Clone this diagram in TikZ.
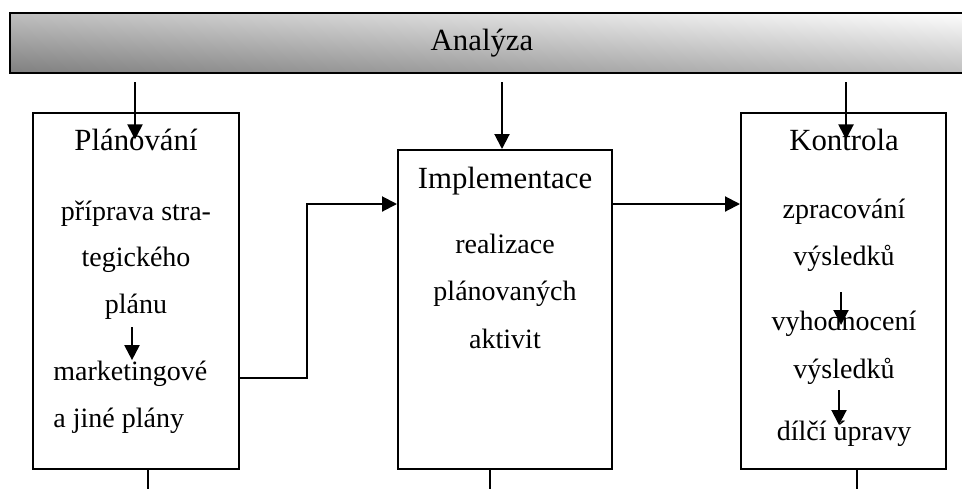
\documentclass[tikz,border=0pt]{standalone}
\usepackage{fontspec}
\setmainfont{Liberation Serif}
\usetikzlibrary{arrows.meta}
% grey that gets lighter towards the upper right corner
\pgfdeclarefunctionalshading{barshade}{\pgfpointorigin}{\pgfpoint{100bp}{100bp}}{}{%
  25 sub 200 div exch 25 sub 200 div add 0.5 add dup dup}

\begin{document}
\begin{tikzpicture}[x=0.5pt,y=-0.5pt,
  every node/.style={font=\fontsize{14}{17}\selectfont},
  title/.style={font=\fontsize{15.4}{18}\selectfont},
  bar/.style={draw,line width=1pt,shade,shading=barshade},
  box/.style={draw,line width=1pt,inner sep=0pt},
  txt/.style={inner sep=0pt,anchor=base},
  arr/.style={line width=1pt,-{Triangle[length=7.5pt,width=7.5pt]}},
  plain/.style={line width=1pt}]
 \useasboundingbox (0,0) rectangle (962,488);
 % top bar
 \node[bar,minimum width=490pt,minimum height=30pt] (analyza) at (500,43) {};
 \node[title] (analyzatext) at (482,43) {Analýza};
 % boxes
 \node[box,minimum width=103pt,minimum height=178pt] (plan) at (136,291) {};
 \node[box,minimum width=107pt,minimum height=159.5pt] (impl) at (505,309.5) {};
 \node[box,minimum width=102.5pt,minimum height=178pt] (kont) at (843.5,291) {};
 % texts of the first box
 \node[txt,title] (plantitle) at (136,150) {Plánování};
 \node[txt] (prip) at (136,220) {příprava stra-};
 \node[txt] (tegic) at (136,266) {tegického};
 \node[txt] (planu) at (136,313) {plánu};
 \node[txt,anchor=base west] (marketing) at (53,380) {marketingové};
 \node[txt,anchor=base west] (jine) at (53,427) {a jiné plány};
 % texts of the second box
 \node[txt,title] (impltitle) at (505,188) {Implementace};
 \node[txt] (realiz) at (505,253) {realizace};
 \node[txt] (planovanych) at (505,300) {plánovaných};
 \node[txt] (aktivit) at (505,348) {aktivit};
 % texts of the third box
 \node[txt,title] (kontitle) at (844,150) {Kontrola};
 \node[txt] (zprac) at (844,218) {zpracování};
 \node[txt] (vysl) at (844,265) {výsledků};
 \node[txt] (vyhod) at (844,330) {vyhodnocení};
 \node[txt] (vysltwo) at (844,378) {výsledků};
 \node[txt] (dilci) at (844,440) {dílčí úpravy};
 % arrows from the bar
 \coordinate (in1) at (135,82);
 \coordinate (in2) at (502,82);
 \coordinate (in3) at (846,82);
 \draw[arr] (in1) -- (in1 |- plantitle.center);
 \draw[arr] (in2) -- (in2 |- impl.north);
 \draw[arr] (in3) -- (in3 |- kontitle.center);
 % lines leaving at the bottom
 \coordinate (out1) at (148,492);
 \coordinate (out2) at (490,492);
 \coordinate (out3) at (857,492);
 \draw[plain] (out1 |- plan.south) -- (out1);
 \draw[plain] (out2 |- impl.south) -- (out2);
 \draw[plain] (out3 |- kont.south) -- (out3);
 % arrows inside the boxes
 \coordinate (s1) at (132,327);
 \coordinate (s2) at (841,292);
 \coordinate (s3) at (839,390);
 \draw[arr] (s1) -- (s1 |- marketing.north);
 \draw[arr] (s2) -- ++(0,33);
 \draw[arr] (s3) -- ++(0,35);
 % connectors between the boxes
 \coordinate (k1) at (307,378);
 \coordinate (k2) at (307,204);
 \draw[arr] (plan.east |- k1) -- (k1) -- (k2) -- (k2 -| impl.west);
 \draw[arr] (k2 -| impl.east) -- (k2 -| kont.west);
\end{tikzpicture}
\end{document}
